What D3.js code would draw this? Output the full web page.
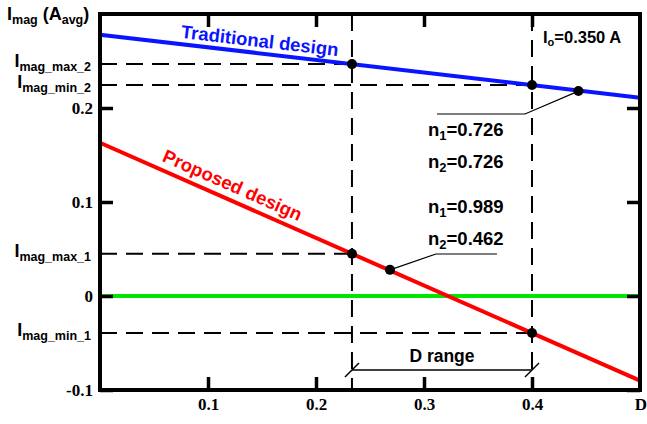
<!DOCTYPE html>
<html>
<head>
<meta charset="utf-8">
<script src="https://cdn.jsdelivr.net/npm/d3@7"></script>
<style>
  body { margin: 0; background: #fff; }
  svg { display: block; }
  .num { font-family: "Liberation Serif", "Times New Roman", serif; font-weight: bold; font-size: 17px; }
  .lab { font-family: "Liberation Sans", Arial, sans-serif; font-weight: bold; }
</style>
</head>
<body>
<div id="chart"></div>
<script>
// data
var dLine = [0, 0.5];
var traditionalI = [0.278, 0.211];
var proposedI = [0.163, -0.090];
var zeroI = [0, 0];
var dOperating = [0.2333, 0.4];
var traditionalOp = [0.2467, 0.2245];
var proposedOp = [0.045, -0.0394];
var markerD = [0.443, 0.2685];
var markerI = [0.218, 0.0278];
var xTicks = [0.1, 0.2, 0.3, 0.4];
var yTicks = [-0.1, 0, 0.1, 0.2];
var yTickLabels = ["-0.1", "0", "0.1", "0.2"];
var levelNames = ["max_2", "min_2", "max_1", "min_1"];
var levelValues = [0.2467, 0.2245, 0.045, -0.0394];
var levelEnds = [0.2333, 0.4, 0.2333, 0.4];

var width = 647, height = 424;
var pLeft = 100, pRight = 640, pTop = 14, pBottom = 390;

var svg = d3.select("#chart").append("svg")
  .attr("width", width).attr("height", height);

var x = d3.scaleLinear().domain([0, 0.5]).range([pLeft, pRight]);
var y = d3.scaleLinear().domain([-0.1, 0.3]).range([pBottom, pTop]);

// dashed guide lines
var dash = "17,9";
levelValues.forEach(function(v, i) {
  svg.append("line")
    .attr("x1", x(0)).attr("x2", x(levelEnds[i]))
    .attr("y1", y(v)).attr("y2", y(v))
    .attr("stroke", "#000").attr("stroke-width", 2).attr("stroke-dasharray", dash);
});
dOperating.forEach(function(d) {
  svg.append("line")
    .attr("x1", x(d)).attr("x2", x(d))
    .attr("y1", y(0.3)).attr("y2", y(-0.1))
    .attr("stroke", "#000").attr("stroke-width", 2).attr("stroke-dasharray", dash);
});

// curves
var line = d3.line().x(function(d) { return x(d[0]); }).y(function(d) { return y(d[1]); });
function drawSeries(vals, color) {
  svg.append("path")
    .datum(d3.zip(dLine, vals))
    .attr("d", line)
    .attr("fill", "none")
    .attr("stroke", color)
    .attr("stroke-width", 4);
}
drawSeries(zeroI, "#00e600");
drawSeries(traditionalI, "#0a14ff");
drawSeries(proposedI, "#ff0000");

// axes: inward ticks on all four sides
var tl = 13;
function styleAxis(g) {
  g.select(".domain").remove();
  g.selectAll(".tick line").attr("stroke", "#000").attr("stroke-width", 3.5);
  g.selectAll(".tick text").attr("class", "num").attr("fill", "#000");
}
svg.append("g").attr("transform", "translate(0," + pBottom + ")")
  .call(d3.axisBottom(x).tickValues(xTicks).tickSize(-tl).tickPadding(8).tickFormat(d3.format(".1f")))
  .call(styleAxis);
svg.append("g").attr("transform", "translate(0," + pTop + ")")
  .call(d3.axisTop(x).tickValues(xTicks).tickSize(-tl).tickFormat(""))
  .call(styleAxis);
svg.append("g").attr("transform", "translate(" + pLeft + ",0)")
  .call(d3.axisLeft(y).tickValues(yTicks).tickSize(-tl).tickPadding(7)
    .tickFormat(function(d, i) { return yTickLabels[i]; }))
  .call(styleAxis);
svg.append("g").attr("transform", "translate(" + pRight + ",0)")
  .call(d3.axisRight(y).tickValues(yTicks).tickSize(-tl).tickFormat(""))
  .call(styleAxis);
svg.append("text").attr("class", "num")
  .attr("x", 641).attr("y", 410).attr("text-anchor", "middle").text("D");

// frame
svg.append("rect")
  .attr("x", pLeft).attr("y", pTop)
  .attr("width", pRight - pLeft).attr("height", pBottom - pTop)
  .attr("fill", "none").attr("stroke", "#000").attr("stroke-width", 4);

// level labels I_mag_xxx
levelValues.forEach(function(v, i) {
  var t = svg.append("text").attr("class", "lab")
    .attr("x", 91).attr("y", y(v) + 3).attr("text-anchor", "end");
  t.append("tspan").attr("font-size", 18).text("I");
  t.append("tspan").attr("font-size", 12.5).attr("dy", 4).text("mag_" + levelNames[i]);
});

// y title
var yTitle = svg.append("text").attr("class", "lab").attr("x", 7).attr("y", 20);
yTitle.append("tspan").attr("font-size", 18).text("I");
yTitle.append("tspan").attr("font-size", 12.5).attr("dy", 4).text("mag");
yTitle.append("tspan").attr("font-size", 18).attr("dy", -4).text(" (A");
yTitle.append("tspan").attr("font-size", 12.5).attr("dy", 4).text("avg");
yTitle.append("tspan").attr("font-size", 18).attr("dy", -4).text(")");

// Io
var io = svg.append("text").attr("class", "lab").attr("x", 543).attr("y", 43);
io.append("tspan").attr("font-size", 16.5).text("I");
io.append("tspan").attr("font-size", 11).attr("dy", 3).text("o");
io.append("tspan").attr("font-size", 16.5).attr("dy", -3).text("=0.350 A");

// operating and marker points
d3.zip(dOperating.concat(dOperating), traditionalOp.concat(proposedOp)).concat(d3.zip(markerD, markerI))
  .forEach(function(p) {
    svg.append("circle").attr("cx", x(p[0])).attr("cy", y(p[1])).attr("r", 5).attr("fill", "#000");
  });

// leader lines
svg.append("path")
  .attr("d", d3.line()([[x(markerD[0]), y(markerI[0])], [525, 114], [437, 114]]))
  .attr("fill", "none").attr("stroke", "#000").attr("stroke-width", 1.2);
svg.append("path")
  .attr("d", d3.line()([[x(markerD[1]), y(markerI[1])], [436, 254], [497, 254]]))
  .attr("fill", "none").attr("stroke", "#000").attr("stroke-width", 1.2);

// n labels
var nLabels = [["1", "0.726", 136], ["2", "0.726", 168], ["1", "0.989", 213], ["2", "0.462", 245]];
nLabels.forEach(function(n) {
  var t = svg.append("text").attr("class", "lab").attr("x", 428).attr("y", n[2]);
  t.append("tspan").attr("font-size", 18.5).text("n");
  t.append("tspan").attr("font-size", 13).attr("dy", 4).text(n[0]);
  t.append("tspan").attr("font-size", 18.5).attr("dy", -4).text("=" + n[1]);
});

// series names along the lines
function angle(vals) {
  return Math.atan2(y(vals[1]) - y(vals[0]), x(dLine[1]) - x(dLine[0])) * 180 / Math.PI;
}
svg.append("text").attr("class", "lab")
  .attr("transform", "translate(259,47) rotate(" + angle(traditionalI) + ")")
  .attr("text-anchor", "middle").attr("font-size", 18.5).attr("fill", "#0a14ff")
  .text("Traditional design");
svg.append("text").attr("class", "lab")
  .attr("transform", "translate(230,191) rotate(" + angle(proposedI) + ")")
  .attr("text-anchor", "middle").attr("font-size", 18.5).attr("fill", "#ff0000")
  .text("Proposed design");

// D range dimension
var dimY = 370;
svg.append("line").attr("x1", x(dOperating[0])).attr("x2", x(dOperating[1]))
  .attr("y1", dimY).attr("y2", dimY).attr("stroke", "#000").attr("stroke-width", 1.5);
dOperating.forEach(function(d) {
  svg.append("line").attr("x1", x(d) - 7).attr("x2", x(d) + 7)
    .attr("y1", dimY + 7).attr("y2", dimY - 7).attr("stroke", "#000").attr("stroke-width", 1.5);
});
svg.append("text").attr("class", "lab")
  .attr("x", (x(dOperating[0]) + x(dOperating[1])) / 2).attr("y", 362)
  .attr("text-anchor", "middle").attr("font-size", 17.5).text("D range");
</script>
</body>
</html>
